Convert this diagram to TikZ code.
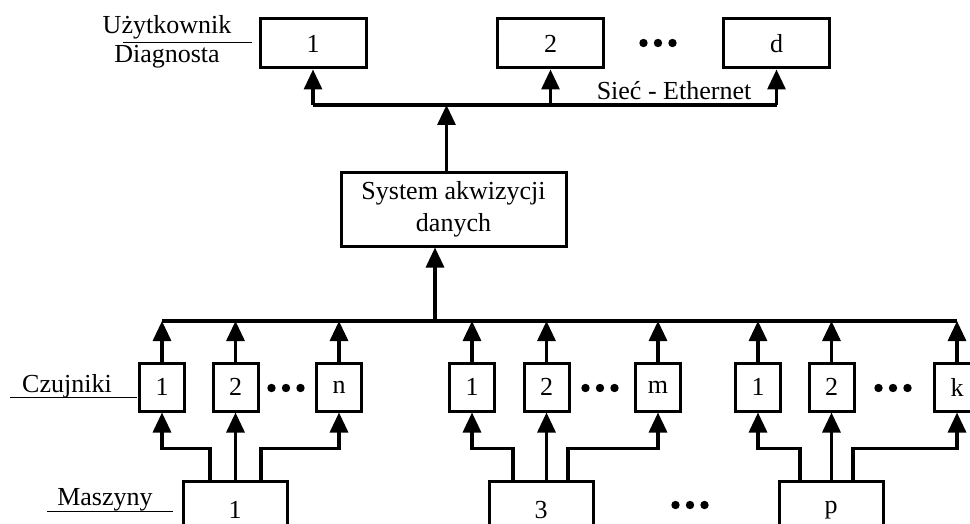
\documentclass[tikz,border=0pt]{standalone}
\usepackage{fontspec}
\setmainfont{Liberation Serif}
\usetikzlibrary{arrows.meta}

% three filled dots centred at (#1,#2)
\newcommand\kropki[2]{\foreach \dx in {-14.5,0,14.5} \fill (#1+\dx,#2) circle (4.2pt);}

\begin{document}
\begin{tikzpicture}[x=1pt, y=-1pt, >={Triangle[length=20pt,width=18pt]},
    font=\fontsize{26}{32}\selectfont,
    box/.style={draw, line width=3pt, inner sep=0pt},
    user/.style={box, minimum width=106pt, minimum height=49pt},
    sens/.style={box, minimum width=45pt, minimum height=48pt},
    mach/.style={box, minimum width=104pt, minimum height=58pt},
    link/.style={line width=3.2pt},
    rule/.style={line width=0.8pt}]
  \useasboundingbox (0,0) rectangle (970,524);
  %--- Węzły
    \node[user] (U1) at (313,43.5) {1};
    \node[user] (U2) at (550.5,43.5) {2};
    \node[user] (UD) at (776.5,43.5) {d};
    \node[box, minimum width=225pt, minimum height=73pt, align=center] (SA) at (453.5,209.5) {System akwizycji\\danych};
    \node[sens] (C11) at (162,387) {1};
    \node[sens] (C12) at (235.5,387) {2};
    \node[sens] (C1N) at (339,387) {n};
    \node[sens] (C21) at (472,387) {1};
    \node[sens] (C22) at (546.5,387) {2};
    \node[sens] (C2M) at (658,387) {m};
    \node[sens] (C31) at (758,387) {1};
    \node[sens] (C32) at (831.5,387) {2};
    \node[sens] (C3K) at (957,387) {k};
    \node[mach] (M1) at (235,510) {1};
    \node[mach] (M3) at (541,510) {3};
    \node[mach] (MP) at (831,510) {p};
  %--- Opisy
    \node[anchor=base] (LU) at (167,34) {Użytkownik};
    \node[anchor=base] (LD) at (167,63) {Diagnosta};
    \node[anchor=base] (LE) at (674,100) {Sieć - Ethernet};
    \node[anchor=base] (LC) at (67,392) {Czujniki};
    \node[anchor=base] (LM) at (105,505) {Maszyny};
    \draw[rule] (123,42) -- (252,42);
    \draw[rule] (10,397) -- (137,397);
    \draw[rule] (47,511) -- (173,511);
    \kropki{658}{43}
    \kropki{286}{388}
    \kropki{600}{388}
    \kropki{893}{388}
    \kropki{690}{505}
  %--- Magistrale
    \coordinate (BT) at (0,105);
    \coordinate (BL) at (0,321);
    \coordinate (SAout) at ([xshift=-7pt]SA.north);
    \coordinate (SAin) at ([xshift=-18.5pt]SA.south);
    \draw[link] (U1 |- BT) -- (UD |- BT);
    \draw[link,->] (U1 |- BT) -- (U1);
    \draw[link,->] (U2 |- BT) -- (U2);
    \draw[link,->] (UD |- BT) -- (UD);
    \draw[link,->] (SAout) -- (SAout |- BT);
    \draw[link] (C11 |- BL) -- (C3K |- BL);
    \draw[link,->] (SAin |- BL) -- (SAin);
    \foreach \c in {C11,C12,C1N,C21,C22,C2M,C31,C32,C3K}
      \draw[link,->] (\c) -- (\c |- BL);
  %--- Maszyny -> czujniki
    \draw[link,->] ([xshift=-25pt]M1.north) -- ++(0,-31) -| (C11);
    \draw[link,->] (M1.north -| C12) -- (C12);
    \draw[link,->] ([xshift=26pt]M1.north) -- ++(0,-31) -| (C1N);
    \draw[link,->] ([xshift=-28pt]M3.north) -- ++(0,-31) -| (C21);
    \draw[link,->] (M3.north -| C22) -- (C22);
    \draw[link,->] ([xshift=27pt]M3.north) -- ++(0,-31) -| (C2M);
    \draw[link,->] ([xshift=-31pt]MP.north) -- ++(0,-31) -| (C31);
    \draw[link,->] (MP.north -| C32) -- (C32);
    \draw[link,->] ([xshift=22pt]MP.north) -- ++(0,-31) -| (C3K);
  %---
\end{tikzpicture}
\end{document}
